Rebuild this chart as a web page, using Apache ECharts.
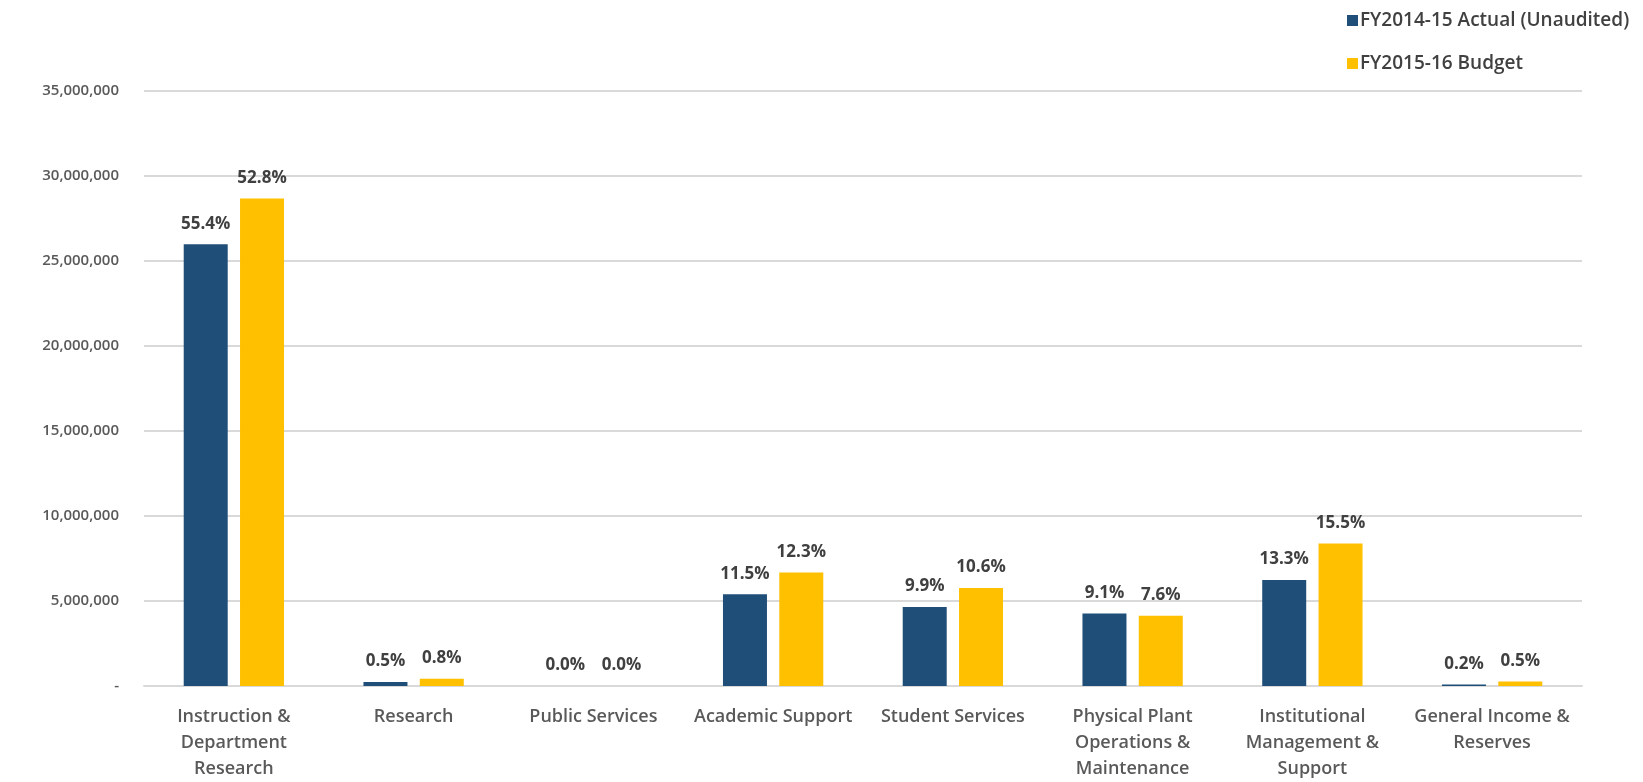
<!DOCTYPE html>
<html><head><meta charset="utf-8">
<script src="https://cdn.jsdelivr.net/npm/echarts@6/dist/echarts.min.js"></script>
<style>html,body{margin:0;padding:0;background:#fff}#c{width:1643px;height:782px}</style>
</head><body><div id="c"></div>
<script>
var categories = ["Instruction &\nDepartment\nResearch","Research","Public Services","Academic Support","Student Services","Physical Plant\nOperations &\nMaintenance","Institutional\nManagement &\nSupport","General Income &\nReserves"];
var seriesNames = ["FY2014-15 Actual (Unaudited)","FY2015-16 Budget"];
var actualValues = [25980000, 235000, 0, 5390000, 4640000, 4270000, 6240000, 94000];
var budgetValues = [28670000, 430000, 0, 6680000, 5760000, 4130000, 8380000, 270000];
var actualPct = ["55.4%","0.5%","0.0%","11.5%","9.9%","9.1%","13.3%","0.2%"];
var budgetPct = ["52.8%","0.8%","0.0%","12.3%","10.6%","7.6%","15.5%","0.5%"];
var yTicks = [0,5000000,10000000,15000000,20000000,25000000,30000000,35000000];

var FONT = '"Open Sans", Lato, sans-serif';
var chart = echarts.init(document.getElementById('c'), null, {renderer:'canvas'});
function lbl(arr){
  return {show:true, position:'top', distance:12, color:'#404040', fontFamily:FONT, fontSize:17, fontWeight:'bold',
    formatter:function(p){return arr[p.dataIndex];}};
}
chart.setOption({
  animation:false,
  textStyle:{fontFamily:FONT},
  legend:{orient:'vertical', left:1342, top:6, itemWidth:11, itemHeight:11, itemGap:24, icon:'rect',
    textStyle:{fontFamily:FONT, fontSize:19, color:'#404040', fontWeight:600, padding:[0,0,0,-3]},
    data:seriesNames},
  grid:{left:144, right:61, top:91, bottom:94},
  xAxis:{type:'category', data:categories,
    axisLine:{lineStyle:{color:'#D9D9D9', width:2}}, axisTick:{show:false},
    axisLabel:{interval:0, color:'#595959', fontFamily:FONT, fontSize:18, fontWeight:600, lineHeight:26, margin:18}},
  yAxis:{type:'value', min:yTicks[0], max:yTicks[yTicks.length-1], interval:yTicks[1]-yTicks[0],
    axisLine:{show:false}, axisTick:{show:false},
    splitLine:{lineStyle:{color:'#D9D9D9', width:2}},
    axisLabel:{color:'#595959', fontFamily:FONT, fontSize:15, fontWeight:600, margin:25,
      formatter:function(v){return v===0?'-':v.toLocaleString('en-US');}}},
  series:[
    {name:seriesNames[0], type:'bar', data:actualValues, barWidth:44, barGap:'28%', itemStyle:{color:'#1F4E79'}, label:lbl(actualPct)},
    {name:seriesNames[1], type:'bar', data:budgetValues, barWidth:44, itemStyle:{color:'#FFC000'}, label:lbl(budgetPct)}
  ]
});
</script></body></html>
